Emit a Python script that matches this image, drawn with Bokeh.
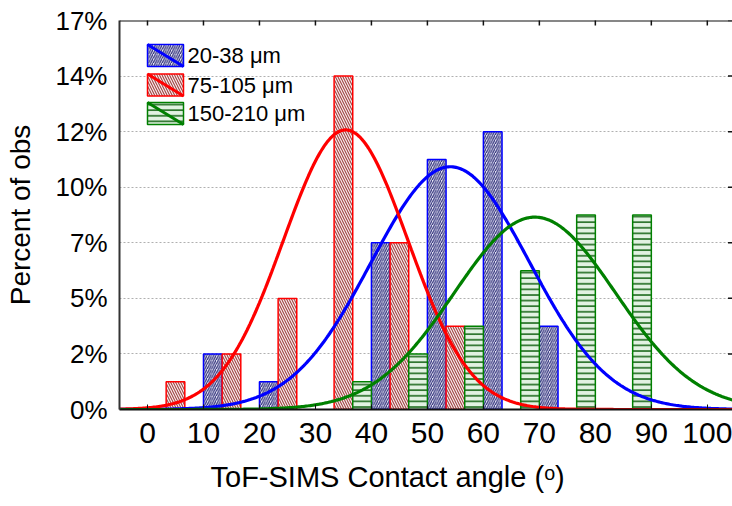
import numpy as np
from bokeh.plotting import figure
from bokeh.models import (FixedTicker, Range1d, BoxAnnotation, Arrow, Label, Span, Title,
                          ColumnDataSource)
from bokeh.embed import file_html
from bokeh.resources import INLINE

# ---------------- data ----------------
bin_starts = [0, 10, 20, 30, 40, 50, 60, 70, 80, 90]
bin_width = 10
blue_pct = [0.00, 2.38, 1.19, 0.00, 7.14, 10.71, 11.90, 3.57, 0.00, 0.00]
red_pct = [1.19, 2.38, 4.76, 14.29, 7.14, 3.57, 0.00, 0.00, 0.00, 0.00]
green_pct = [0.00, 0.00, 0.00, 1.19, 2.38, 3.57, 5.95, 8.33, 8.33, 0.00]
series_names = ["20-38 μm", "75-105 μm", "150-210 μm"]
fit_means = [54.1, 35.4, 69.2]
fit_sds = [14.15, 11.1, 14.4]
x_ticks = [0, 10, 20, 30, 40, 50, 60, 70, 80, 90, 100]
y_tick_values = [0, 2.381, 4.762, 7.143, 9.524, 11.905, 14.286, 16.667]
y_tick_labels = ["0%", "2%", "5%", "7%", "10%", "12%", "14%", "17%"]
x_title = "ToF-SIMS Contact angle (ᵒ)"
y_title = "Percent of obs"

# ---------------- styles ----------------
FONT = "Liberation Sans"
line_colors = ["#0000FF", "#FF0000", "#008000"]
hatch_colors = ["#30307a", "#a04545", "#1f6b1f"]
fill_colors = ["#e8e8f6", "#f8ecec", "#e2f2e2"]
hatch_patterns = ["right_diagonal_line", "left_diagonal_line", "horizontal_line"]
hatch_scales = [4.5, 5, 5.6]
hatch_weights = [1.2, 1.1, 1.6]
X0, X1 = -5, 104.5

p = figure(width=732, height=506,
           x_range=Range1d(X0, X1), y_range=Range1d(0, y_tick_values[-1]),
           output_backend="svg", toolbar_location=None,
           min_border_left=119, min_border_right=0,
           min_border_top=20, min_border_bottom=96)
p.outline_line_color = None
p.background_fill_color = "white"
p.border_fill_color = "white"

# axes
xt = FixedTicker(ticks=x_ticks)
yt = FixedTicker(ticks=y_tick_values)
p.xaxis.ticker = xt
p.yaxis.ticker = yt
p.yaxis.major_label_overrides = {v: l for v, l in zip(y_tick_values, y_tick_labels)}
for ax in p.xaxis:
    ax.major_tick_in = 5
    ax.major_tick_out = 0
    ax.minor_tick_line_color = None
    ax.axis_line_width = 2
    ax.axis_line_color = "#111111"
    ax.major_tick_line_color = "#111111"
    ax.major_label_text_font = FONT
    ax.major_label_text_font_size = "30px"
    ax.major_label_text_color = "black"
    ax.major_label_standoff = 13
for ax in p.yaxis:
    ax.major_tick_in = 0
    ax.major_tick_out = 0
    ax.minor_tick_line_color = None
    ax.axis_line_width = 2
    ax.axis_line_color = "#333333"
    ax.major_label_text_font = FONT
    ax.major_label_text_font_size = "26px"
    ax.major_label_text_color = "black"
    ax.major_label_standoff = 12
    ax.axis_label = y_title
    ax.axis_label_text_font = FONT
    ax.axis_label_text_font_size = "28px"
    ax.axis_label_text_font_style = "normal"
    ax.axis_label_text_color = "black"
    ax.axis_label_standoff = 16

p.add_layout(Title(text=x_title, text_font=FONT, text_font_size="29px",
                   text_font_style="normal", text_color="black",
                   align="left", offset=91, standoff=27), "below")

p.xgrid.grid_line_color = None
p.ygrid.ticker = yt
p.ygrid.grid_line_color = "#b0b0b0"
p.ygrid.grid_line_dash = "2 2"
p.ygrid.grid_line_width = 1

# top frame line with inward ticks, and inward ticks on the right edge
p.add_layout(Span(location=y_tick_values[-1], dimension="width",
                  line_color="#111111", line_width=2))
p.scatter(x=x_ticks, y=[y_tick_values[-1]] * len(x_ticks), marker="dash", angle=np.pi / 2,
          size=10, line_color="#111111", line_width=1.5)
p.scatter(x=[X1] * len(y_tick_values), y=y_tick_values, marker="dash",
          size=9, line_color="#111111", line_width=1.5)

# bars
all_pct = [blue_pct, red_pct, green_pct]
sub_w = bin_width / 3
for i, vals in enumerate(all_pct):
    xs = [b + (i + 0.5) * sub_w for b, v in zip(bin_starts, vals) if v > 0]
    tops = [v for v in vals if v > 0]
    src = ColumnDataSource(dict(x=xs, top=tops))
    p.vbar(x="x", top="top", bottom=0, width=sub_w, source=src,
           fill_color=fill_colors[i], line_color=line_colors[i], line_width=1.5,
           hatch_pattern=hatch_patterns[i], hatch_color=hatch_colors[i],
           hatch_scale=hatch_scales[i], hatch_weight=hatch_weights[i])

# fitted normal curves
xx = np.linspace(X0, X1, 400)
for i, vals in enumerate(all_pct):
    total = sum(vals)
    m, s = fit_means[i], fit_sds[i]
    yy = total * bin_width * np.exp(-0.5 * ((xx - m) / s) ** 2) / (s * np.sqrt(2 * np.pi))
    p.line(xx, yy, line_color=line_colors[i], line_width=3.2)

# legend (screen units: x from frame left, y up from frame bottom)
box_left, box_right = 28, 64
box_tops = [365, 335.5, 307]
box_h = 22
for i, name in enumerate(series_names):
    t = box_tops[i]
    b = t - box_h
    p.add_layout(BoxAnnotation(left=box_left, right=box_right, top=t, bottom=b,
                               left_units="screen", right_units="screen",
                               top_units="screen", bottom_units="screen",
                               fill_color=fill_colors[i], fill_alpha=1,
                               line_color=line_colors[i], line_width=1.5, line_alpha=1,
                               hatch_pattern=hatch_patterns[i], hatch_color=hatch_colors[i],
                               hatch_scale=hatch_scales[i], hatch_weight=hatch_weights[i]))
    p.add_layout(Arrow(x_start=box_left, y_start=t, x_end=box_right, y_end=b,
                       start_units="screen", end_units="screen", start=None, end=None,
                       line_color=line_colors[i], line_width=3))
    p.add_layout(Label(x=box_right + 4, y=t - box_h / 2, x_units="screen", y_units="screen",
                       text=name, text_font=FONT, text_font_size="22px",
                       text_baseline="middle", text_color="black"))

open("out.html", "w").write(file_html(p, INLINE))
